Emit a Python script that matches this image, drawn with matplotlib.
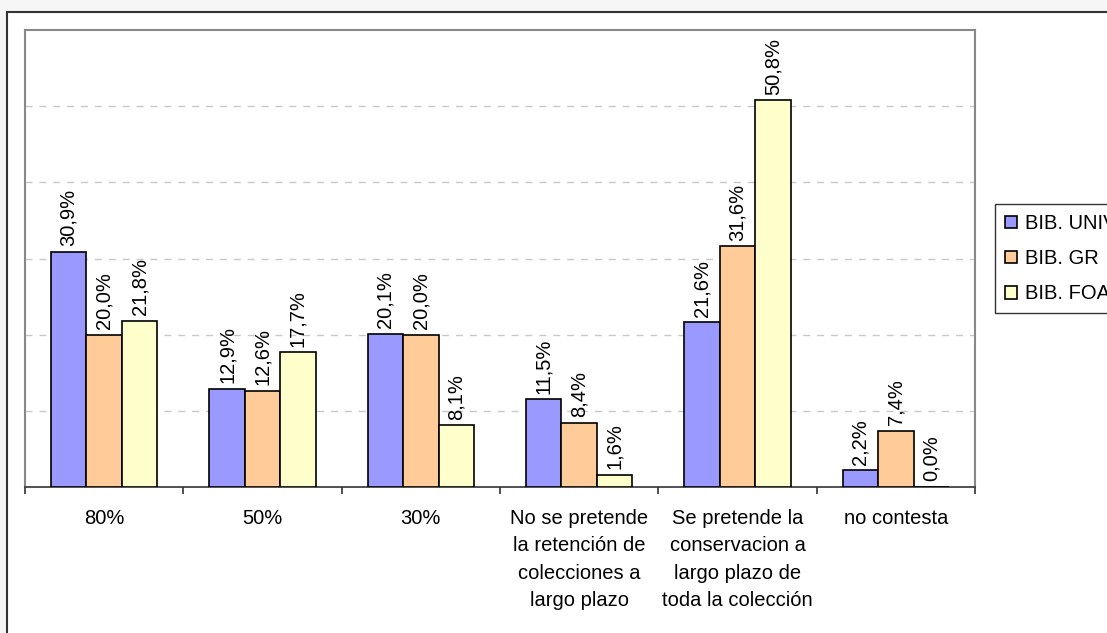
import matplotlib
matplotlib.use("Agg")
import matplotlib.pyplot as plt
import numpy as np
from matplotlib.patches import Rectangle

plt.rcParams['font.family'] = ['Liberation Sans', 'DejaVu Sans']

categorias = ["80%", "50%", "30%",
              "No se pretende\nla retención de\ncolecciones a\nlargo plazo",
              "Se pretende la\nconservacion a\nlargo plazo de\ntoda la colección",
              "no contesta"]
series = ["BIB. UNIV", "BIB. GR", "BIB. FOA"]
univ = [30.9, 12.9, 20.1, 11.5, 21.6, 2.2]
gr = [20.0, 12.6, 20.0, 8.4, 31.6, 7.4]
foa = [21.8, 17.7, 8.1, 1.6, 50.8, 0.0]
colores = ["#9999FF", "#FFCC99", "#FFFFCC"]

W, H = 1107, 633
fig = plt.figure(figsize=(W / 100, H / 100), dpi=100)
fig.patch.set_facecolor("#f6f6f6")
# marco exterior
fig.patches.append(Rectangle((7 / W, -0.1), 1.2, 1 - 12 / H + 0.1, transform=fig.transFigure,
                             facecolor="white", edgecolor="#333333", linewidth=1.5, zorder=-1))

ax = fig.add_axes([25 / W, 1 - 487 / H, 950 / W, 457 / H])
ax.set_zorder(1)
ax.set_facecolor("white")
x = np.arange(len(categorias))
ancho = 0.224
fs = 14.5
for i, (vals, col) in enumerate(zip([univ, gr, foa], colores)):
    pos = x + (i - 1) * ancho
    ax.bar(pos, vals, ancho, color=col, edgecolor="black", linewidth=1.2, label=series[i], zorder=3)
    for p, v in zip(pos, vals):
        ax.annotate(("%.1f%%" % v).replace(".", ","), (p, v), xytext=(0, 4),
                    textcoords="offset points", rotation=90, ha="center", va="bottom", fontsize=fs)

ax.set_xlim(-0.5, len(categorias) - 0.5)
ax.set_ylim(0, 60)
ax.set_yticks([10, 20, 30, 40, 50])
ax.yaxis.grid(True, color="#c8c8c8", linestyle=(0, (5, 5)), linewidth=1, zorder=0)
ax.tick_params(axis="y", left=False, labelleft=False)
ax.set_xticks(np.arange(len(categorias) + 1) - 0.5, minor=True)
ax.set_xticks(x)
ax.set_xticklabels(categorias, fontsize=fs, linespacing=1.55, va="top")
ax.tick_params(axis="x", which="major", length=0, pad=16)
ax.tick_params(axis="x", which="minor", length=5, width=1.2, color="#333333", direction="out")
for s in ["top", "left", "right"]:
    ax.spines[s].set_color("#888888")
    ax.spines[s].set_linewidth(1.5)
ax.spines["bottom"].set_color("#333333")
ax.spines["bottom"].set_linewidth(1.2)

h, l = ax.get_legend_handles_labels()
leg = fig.legend(h, l, loc="upper left", bbox_to_anchor=(995 / W, 1 - 204 / H),
                 fontsize=fs, frameon=True, fancybox=False, handlelength=0.6, handleheight=0.6,
                 handletextpad=0.4, borderpad=0.5, labelspacing=0.8, borderaxespad=0)
leg.get_frame().set_edgecolor("black")
leg.get_frame().set_linewidth(1.0)

plt.savefig("out.png", dpi=100, facecolor=fig.get_facecolor())
